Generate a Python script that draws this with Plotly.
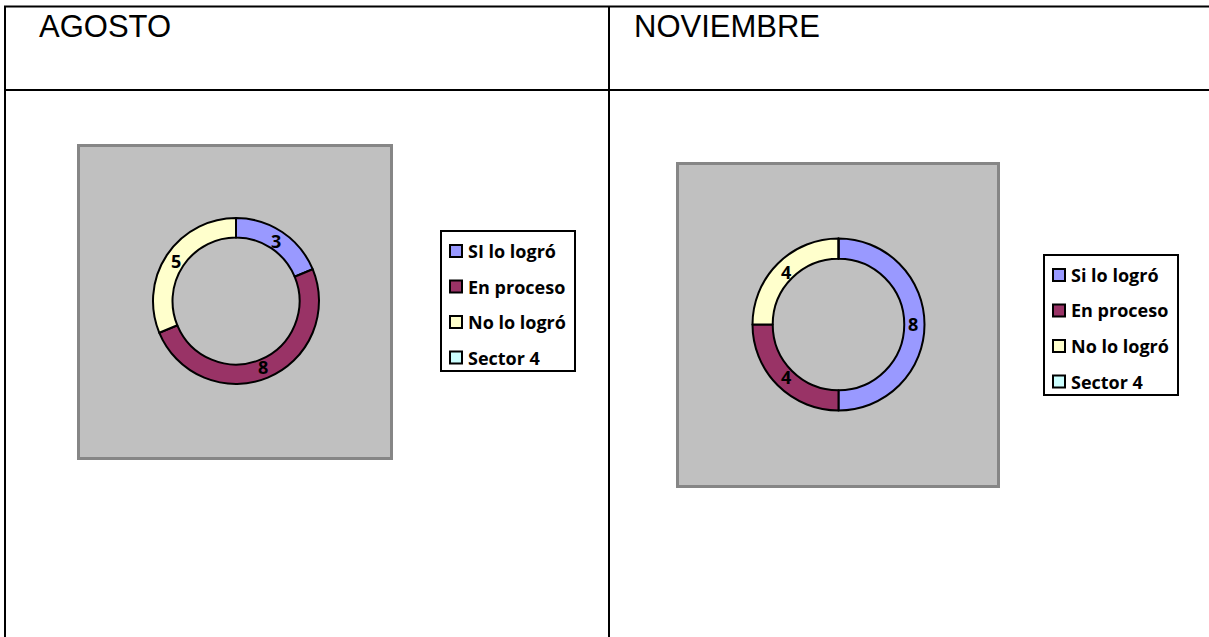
import math
import plotly.graph_objects as go

W, H = 1209, 637

# --- data -------------------------------------------------------------
months = ["AGOSTO", "NOVIEMBRE"]
labels_agosto = ["SI lo logró", "En proceso", "No lo logró", "Sector 4"]
labels_noviembre = ["Si lo logró", "En proceso", "No lo logró", "Sector 4"]
values_agosto = [3, 8, 5, 0]
values_noviembre = [8, 4, 4, 0]
slice_colors = ["#9999FF", "#993366", "#FFFFCC", "#CCFFFF"]

LABEL_FONT = dict(family="Open Sans", size=18, color="black", weight="bold")


def px(x):
    return x / W


def py(y):
    return 1 - y / H


shapes = []
annotations = []


def donut(labels, values, cx, cy, r, hole):
    trace = go.Pie(
        labels=labels,
        values=values,
        hole=hole,
        sort=False,
        direction="clockwise",
        rotation=0,
        marker=dict(colors=slice_colors, line=dict(color="black", width=2)),
        textinfo="none",
        showlegend=False,
        hoverinfo="label+value",
        domain=dict(x=[px(cx - r), px(cx + r)], y=[py(cy + r), py(cy - r)]),
    )
    # value labels, horizontal, centred in the ring at each slice's mid angle
    total = sum(values)
    r_text = r * (1 + hole) / 2 - 1.5
    start = 0.0
    for v in values:
        if v:
            mid = 2 * math.pi * (start + v / 2) / total
            annotations.append(dict(
                text=str(v), xref="paper", yref="paper",
                x=px(cx + r_text * math.sin(mid)), y=py(cy - r_text * math.cos(mid)),
                xanchor="center", yanchor="middle", showarrow=False, font=LABEL_FONT))
        start += v
    return trace


fig = go.Figure()
fig.add_trace(donut(labels_agosto, values_agosto, 236, 301, 83, 0.765))
fig.add_trace(donut(labels_noviembre, values_noviembre, 838.5, 324.5, 86, 0.765))


def line(x0, y0, x1, y1, w=2):
    shapes.append(dict(type="line", xref="paper", yref="paper",
                       x0=px(x0), y0=py(y0), x1=px(x1), y1=py(y1),
                       line=dict(color="black", width=w)))


# table grid
line(4, 6.5, W, 6.5)
line(4, 90, W, 90)
line(5, 6, 5, H)
line(609, 6, 609, H)

# chart areas (grey squares behind each donut)
for (x0, y0, x1, y1) in [(78.5, 145.5, 391.5, 458.5), (677.5, 163.5, 998.5, 486.5)]:
    shapes.append(dict(type="rect", xref="paper", yref="paper", layer="below",
                       x0=px(x0), y0=py(y1), x1=px(x1), y1=py(y0),
                       fillcolor="#C0C0C0", line=dict(color="#868686", width=3)))

# month headers
for name, x in zip(months, [37, 632]):
    annotations.append(dict(text=name, xref="paper", yref="paper", x=px(x), y=py(26),
                            xanchor="left", yanchor="middle", showarrow=False,
                            font=dict(family="Liberation Sans, Arial", size=31, color="black")))


# legends
def legend_box(labels, left, top):
    shapes.append(dict(type="rect", xref="paper", yref="paper",
                       x0=px(left + 1), y0=py(top + 141), x1=px(left + 135), y1=py(top + 1),
                       fillcolor="white", line=dict(color="black", width=2)))
    for i, (lab, col) in enumerate(zip(labels, slice_colors)):
        yc = top + 21 + i * 35.5
        shapes.append(dict(type="rect", xref="paper", yref="paper",
                           x0=px(left + 10), y0=py(yc + 6), x1=px(left + 22), y1=py(yc - 6),
                           fillcolor=col, line=dict(color="black", width=2)))
        annotations.append(dict(text=lab, xref="paper", yref="paper", x=px(left + 26), y=py(yc),
                                xanchor="left", yanchor="middle", showarrow=False,
                                font=LABEL_FONT))


legend_box(labels_agosto, 440, 230)
legend_box(labels_noviembre, 1043, 254)

fig.update_layout(
    width=W, height=H, autosize=False,
    margin=dict(l=0, r=0, t=0, b=0),
    paper_bgcolor="white", plot_bgcolor="white",
    shapes=shapes, annotations=annotations,
)

fig.write_html("out.html")
